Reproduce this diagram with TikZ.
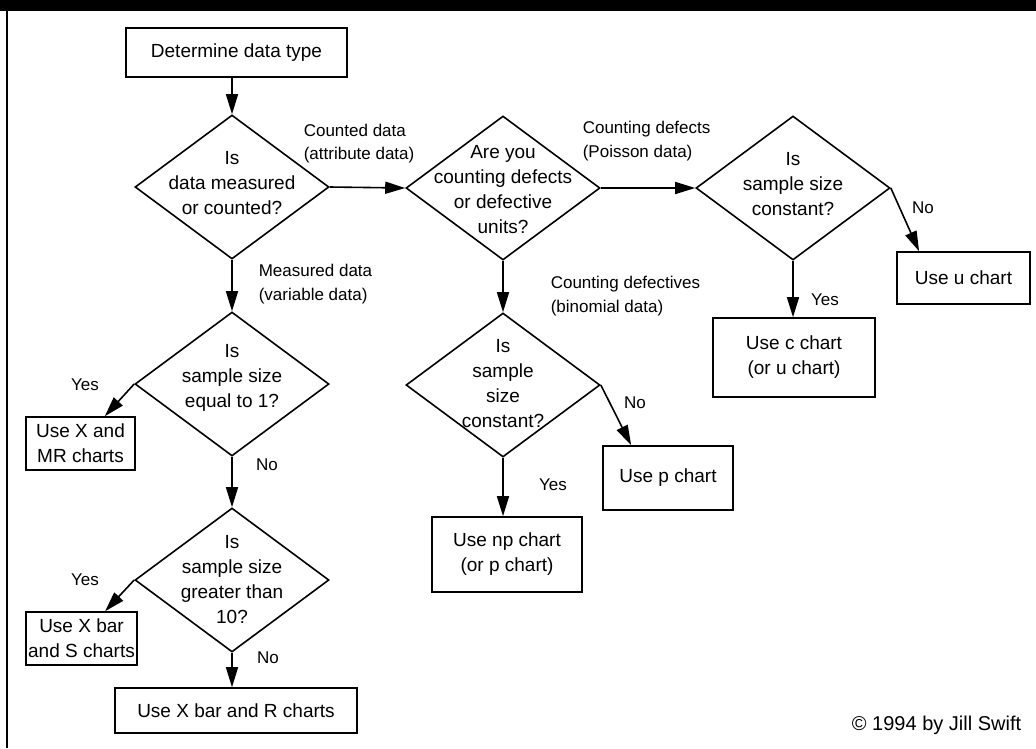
\documentclass[tikz,border=0pt]{standalone}
\usepackage{fontspec}
\setmainfont{Liberation Sans}
\usetikzlibrary{shapes.geometric,arrows.meta,calc}
\begin{document}
\begin{tikzpicture}[x=1pt,y=-1pt,
  line width=1.6pt,
  dia/.style={draw,shape=diamond,minimum width=194pt,minimum height=144pt,inner sep=0pt},
  txt/.style={font=\fontsize{19}{25}\selectfont,align=center,inner sep=0pt},
  lbl/.style={font=\fontsize{17}{23.5}\selectfont,align=left,inner sep=0pt,anchor=west},
  box/.style={draw,rectangle,inner sep=0pt,font=\fontsize{19}{25}\selectfont,align=center},
  arr/.style={-{Triangle[length=20pt,width=12pt]}}]
\useasboundingbox (0,0) rectangle (1036,748);
% frame
\fill (0,0) rectangle (1036,11);
\draw[line width=2pt] (7,11) -- (7,748);

% boxes
\node[box,minimum width=221pt,minimum height=49pt] (b0) at (236.5,52.5) {Determine data type};
\node[box,minimum width=109pt,minimum height=53pt] (b1) at (80.5,443.5) {Use X and\\MR charts};
\node[box,minimum width=111pt,minimum height=53pt] (b2) at (81.5,638.5) {Use X bar\\and S charts};
\node[box,minimum width=242pt,minimum height=45pt] (b3) at (236,710.5) {Use X bar and R charts};
\node[box,minimum width=150pt,minimum height=75pt] (bnp) at (507,554.5) {Use np chart\\(or p chart)};
\node[box,minimum width=130pt,minimum height=64pt] (bp) at (668,478) {Use p chart};
\node[box,minimum width=162pt,minimum height=79pt] (bc) at (794,357.5) {Use c chart\\(or u chart)};
\node[box,minimum width=133pt,minimum height=52pt] (bu) at (963.5,278) {Use u chart};

% diamonds
\node[dia] (d1) at (232,187) {};
\node[txt] (d1t) at (232,183) {Is\\data measured\\or counted?};
\node[dia] (d2) at (232,384) {};
\node[txt] (d2t) at (232,378) {Is\\sample size\\equal to 1?};
\node[dia] (d3) at (232,580) {};
\node[txt] (d3t) at (232,580) {Is\\sample size\\greater than\\10?};
\node[dia] (d4) at (503,188) {};
\node[txt] (d4t) at (503,190) {Are you\\counting defects\\or defective\\units?};
\node[dia] (d5) at (793,188) {};
\node[txt] (d5t) at (793,184) {Is\\sample size\\constant?};
\node[dia] (d6) at (503,385) {};
\node[txt] (d6t) at (503,384) {Is\\sample\\size\\constant?};

% connectors
\draw[arr] (b0.south -| d1.north) -- (d1.north);
\draw[arr] (d1.south) -- (d2.north);
\draw[arr] (d2.west) -- ($(b1.north west)!0.72!(b1.north east)$);
\draw[arr] (d2.south) -- (d3.north);
\draw[arr] (d3.west) -- ($(b2.north west)!0.71!(b2.north east)$);
\draw[arr] (d3.south) -- (d3.south |- b3.north);
\draw[arr] (d1.east) -- (d4.west);
\draw[arr] (d4.east) -- (d5.west);
\draw[arr] (d4.south) -- (d6.north);
\draw[arr] (d6.south) -- (d6.south |- bnp.north);
\draw[arr] (d6.east) -- ($(bp.north west)!0.22!(bp.north east)$);
\draw[arr] (d5.south) -- (d5.south |- bc.north);
\draw[arr] (d5.east) -- ($(bu.north west)!0.17!(bu.north east)$);

% labels
\node[lbl] (l1) at (303,143.5) {Counted data\\(attribute data)};
\node[lbl] (l2) at (258,284) {Measured data\\(variable data)};
\node[lbl] (l3) at (582,141) {Counting defects\\(Poisson data)};
\node[lbl] (l4) at (550,296) {Counting defectives\\(binomial data)};
\node[lbl,anchor=center] (y1) at (85,385) {Yes};
\node[lbl,anchor=center] (n1) at (267,465) {No};
\node[lbl,anchor=center] (y2) at (85,580) {Yes};
\node[lbl,anchor=center] (n2) at (268,658) {No};
\node[lbl,anchor=center] (n3) at (635,403) {No};
\node[lbl,anchor=center] (y3) at (553,485) {Yes};
\node[lbl,anchor=center] (y4) at (825,300) {Yes};
\node[lbl,anchor=center] (n4) at (923,208) {No};
\node[lbl,anchor=east,font=\fontsize{20}{24}\selectfont] (cr) at (1022,725) {© 1994 by Jill Swift};
\end{tikzpicture}
\end{document}
